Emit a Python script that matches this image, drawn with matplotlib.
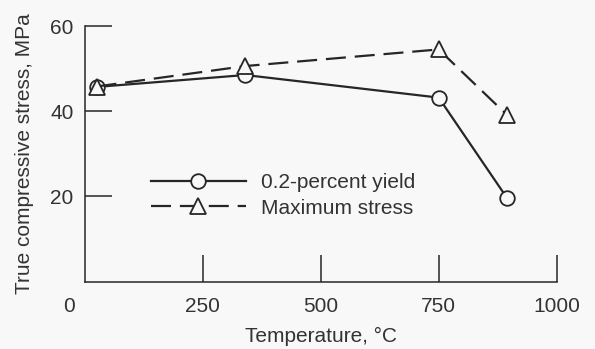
import matplotlib
matplotlib.use("Agg")
import matplotlib.pyplot as plt

# data
temps = [25, 340, 750, 895]
yield_stress = [45.7, 48.5, 43.2, 19.6]
max_stress = [45.8, 50.6, 54.5, 39.1]

x_ticks = [250, 500, 750, 1000]
y_ticks = [20, 40, 60]

plt.rcParams['font.family'] = ['Liberation Sans', 'DejaVu Sans']
ink = '#262626'
txt = '#333333'
bg = '#f8f8f8'
fs = 15

fig = plt.figure(figsize=(5.95, 3.49), dpi=100, facecolor=bg)
ax = fig.add_axes([0.1424, 0.1928, 0.7932, 0.7327], facecolor=bg)

ax.plot(temps, yield_stress, color=ink, lw=1.6, marker='o', ms=10.5,
        mfc=bg, mec=ink, mew=1.3, label='0.2-percent yield')
ax.plot(temps, max_stress, color=ink, lw=1.6, ls=(0, (9, 4)), marker='^',
        ms=11, mfc=bg, mec=ink, mew=1.3, label='Maximum stress')

ax.set_xlim(0, 1000)
ax.set_ylim(0, 60)
ax.set_xticks(x_ticks)
ax.set_yticks(y_ticks)
for s in ['top', 'right']:
    ax.spines[s].set_visible(False)
for s in ['left', 'bottom']:
    ax.spines[s].set_linewidth(1.1)
    ax.spines[s].set_color(ink)
ax.tick_params(direction='in', length=19.5, width=1.1, color=ink,
               labelsize=fs, labelcolor=txt)
ax.tick_params(axis='x', pad=11)
ax.tick_params(axis='y', pad=8)

ax.annotate('0', xy=(0, 0), xytext=(-11, -17.5), textcoords='offset points',
            ha='center', va='center', fontsize=fs, color=txt)

ax.set_xlabel('Temperature, \u00b0C', fontsize=fs, color=txt, labelpad=8)
ax.set_ylabel('True compressive stress, MPa', fontsize=fs, color=txt,
              labelpad=12)

leg = ax.legend(loc='center left', bbox_to_anchor=(0.253, 0.4398),
                bbox_transform=fig.transFigure, frameon=False, fontsize=fs,
                handlelength=4.6, handletextpad=0.7, labelspacing=0.3,
                borderpad=0, borderaxespad=0, numpoints=1)
for t in leg.get_texts():
    t.set_color(txt)

fig.savefig('out.png', dpi=100, facecolor=bg)
